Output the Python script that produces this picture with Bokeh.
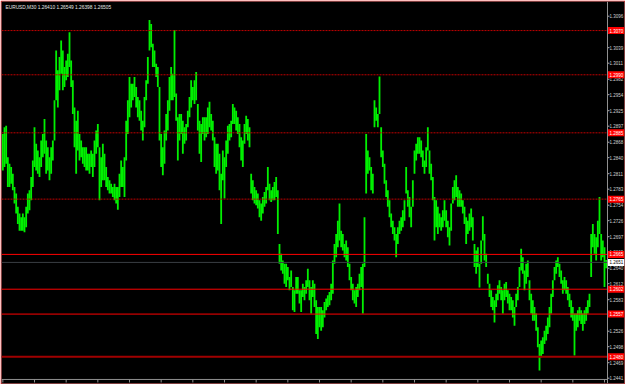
import math
from bokeh.plotting import figure
from bokeh.models import Span, Label, Range1d, ColumnDataSource
from bokeh.core.properties import value
from bokeh.embed import file_html
from bokeh.resources import INLINE

symbol = "EURUSD,M30"
last_ohlc = [1.26410, 1.26549, 1.26398, 1.26505]

high = [
    1.2883, 1.2895, 1.2898, 1.2841, 1.2829, 1.2823, 1.2811, 1.2787, 1.2775, 1.2751,
    1.2739, 1.2732, 1.2739, 1.2732, 1.2751, 1.2775, 1.2781, 1.2805, 1.2835, 1.2895,
    1.2865, 1.2853, 1.2841, 1.2871, 1.2883, 1.2910, 1.2871, 1.2859, 1.2841, 1.2859,
    1.2871, 1.2944, 1.3034, 1.2998, 1.3022, 1.3052, 1.3034, 1.3004, 1.3016, 1.3028,
    1.3067, 1.3016, 1.2980, 1.2931, 1.2907, 1.2925, 1.2883, 1.2871, 1.2859, 1.2859,
    1.2859, 1.2847, 1.2847, 1.2853, 1.2847, 1.2871, 1.2889, 1.2901, 1.2859, 1.2841,
    1.2865, 1.2847, 1.2823, 1.2805, 1.2799, 1.2793, 1.2787, 1.2793, 1.2787, 1.2787,
    1.2811, 1.2835, 1.2823, 1.2841, 1.2907, 1.2944, 1.2986, 1.2974, 1.2974, 1.2986,
    1.2968, 1.2950, 1.2944, 1.2925, 1.2907, 1.2950, 1.2980, 1.3022, 1.3089, 1.3082,
    1.3046, 1.3034, 1.3010, 1.3004, 1.2968, 1.2883, 1.2859, 1.2889, 1.2919, 1.2944,
    1.2986, 1.3004, 1.2992, 1.3071, 1.2956, 1.2913, 1.2919, 1.2919, 1.2907, 1.2895,
    1.2901, 1.2925, 1.2950, 1.2980, 1.2968, 1.2980, 1.2995, 1.2937, 1.2907, 1.2901,
    1.2913, 1.2913, 1.2913, 1.2931, 1.2941, 1.2919, 1.2907, 1.2877, 1.2865, 1.2865,
    1.2847, 1.2811, 1.2853, 1.2841, 1.2871, 1.2898, 1.2901, 1.2907, 1.2937, 1.2931,
    1.2925, 1.2913, 1.2901, 1.2877, 1.2871, 1.2901, 1.2916, 1.2910, 1.2895, 1.2811,
    1.2799, 1.2787, 1.2781, 1.2775, 1.2763, 1.2757, 1.2769, 1.2778, 1.2787, 1.2823,
    1.2793, 1.2781, 1.2787, 1.2796, 1.2805, 1.2781, 1.2684, 1.2666, 1.2654, 1.2648,
    1.2648, 1.2642, 1.2624, 1.2636, 1.2606, 1.2600, 1.2624, 1.2624, 1.2600, 1.2600,
    1.2612, 1.2606, 1.2618, 1.2639, 1.2618, 1.2606, 1.2618, 1.2612, 1.2582, 1.2570,
    1.2570, 1.2570, 1.2564, 1.2579, 1.2585, 1.2591, 1.2597, 1.2612, 1.2654, 1.2684,
    1.2702, 1.2726, 1.2757, 1.2708, 1.2702, 1.2684, 1.2690, 1.2678, 1.2648, 1.2624,
    1.2612, 1.2600, 1.2606, 1.2612, 1.2630, 1.2642, 1.2648, 1.2732, 1.2883, 1.2853,
    1.2841, 1.2823, 1.2811, 1.2944, 1.2931, 1.2919, 1.2987, 1.2895, 1.2853, 1.2829,
    1.2799, 1.2781, 1.2763, 1.2739, 1.2726, 1.2714, 1.2702, 1.2714, 1.2726, 1.2732,
    1.2745, 1.2763, 1.2823, 1.2781, 1.2769, 1.2751, 1.2799, 1.2853, 1.2865, 1.2877,
    1.2877, 1.2871, 1.2853, 1.2835, 1.2859, 1.2895, 1.2853, 1.2829, 1.2805, 1.2769,
    1.2763, 1.2751, 1.2739, 1.2732, 1.2745, 1.2763, 1.2745, 1.2726, 1.2714, 1.2757,
    1.2787, 1.2799, 1.2808, 1.2787, 1.2781, 1.2775, 1.2763, 1.2751, 1.2732, 1.2726,
    1.2739, 1.2748, 1.2732, 1.2684, 1.2672, 1.2678, 1.2648, 1.2690, 1.2734, 1.2702,
    1.2666, 1.2630, 1.2612, 1.2600, 1.2588, 1.2582, 1.2594, 1.2609, 1.2618, 1.2606,
    1.2600, 1.2612, 1.2615, 1.2600, 1.2594, 1.2588, 1.2582, 1.2570, 1.2594, 1.2606,
    1.2642, 1.2675, 1.2660, 1.2636, 1.2648, 1.2654, 1.2618, 1.2594, 1.2582, 1.2570,
    1.2558, 1.2533, 1.2503, 1.2509, 1.2515, 1.2527, 1.2536, 1.2551, 1.2570, 1.2594,
    1.2618, 1.2642, 1.2654, 1.2660, 1.2648, 1.2636, 1.2618, 1.2624, 1.2618, 1.2606,
    1.2594, 1.2582, 1.2570, 1.2558, 1.2558, 1.2564, 1.2570, 1.2564, 1.2558, 1.2564,
    1.2570, 1.2582, 1.2594, 1.2702, 1.2720, 1.2702, 1.2696, 1.2726, 1.2769, 1.2702,
    1.2690, 1.2678, 1.26549,
]

low = [
    1.2817, 1.2823, 1.2829, 1.2787, 1.2787, 1.2793, 1.2781, 1.2757, 1.2739, 1.2720,
    1.2708, 1.2708, 1.2708, 1.2705, 1.2714, 1.2739, 1.2745, 1.2763, 1.2787, 1.2823,
    1.2817, 1.2811, 1.2805, 1.2823, 1.2841, 1.2847, 1.2811, 1.2817, 1.2799, 1.2811,
    1.2835, 1.2871, 1.2944, 1.2931, 1.2962, 1.2992, 1.2962, 1.2968, 1.2980, 1.2986,
    1.3004, 1.2968, 1.2919, 1.2859, 1.2811, 1.2853, 1.2835, 1.2841, 1.2829, 1.2823,
    1.2817, 1.2817, 1.2811, 1.2823, 1.2805, 1.2823, 1.2847, 1.2859, 1.2763, 1.2787,
    1.2799, 1.2799, 1.2787, 1.2781, 1.2775, 1.2775, 1.2769, 1.2763, 1.2757, 1.2746,
    1.2769, 1.2787, 1.2787, 1.2769, 1.2835, 1.2883, 1.2913, 1.2931, 1.2944, 1.2950,
    1.2931, 1.2913, 1.2907, 1.2889, 1.2871, 1.2895, 1.2944, 1.2974, 1.3034, 1.3040,
    1.3004, 1.3004, 1.2986, 1.2968, 1.2871, 1.2823, 1.2808, 1.2829, 1.2871, 1.2889,
    1.2925, 1.2944, 1.2944, 1.2950, 1.2907, 1.2835, 1.2871, 1.2883, 1.2847, 1.2865,
    1.2871, 1.2895, 1.2913, 1.2931, 1.2944, 1.2937, 1.2944, 1.2889, 1.2847, 1.2832,
    1.2883, 1.2871, 1.2877, 1.2883, 1.2895, 1.2889, 1.2871, 1.2823, 1.2811, 1.2817,
    1.2781, 1.2720, 1.2799, 1.2766, 1.2823, 1.2847, 1.2871, 1.2877, 1.2901, 1.2901,
    1.2889, 1.2883, 1.2859, 1.2835, 1.2823, 1.2865, 1.2883, 1.2871, 1.2859, 1.2775,
    1.2763, 1.2757, 1.2754, 1.2748, 1.2732, 1.2726, 1.2739, 1.2751, 1.2757, 1.2781,
    1.2763, 1.2760, 1.2763, 1.2763, 1.2769, 1.2702, 1.2648, 1.2636, 1.2630, 1.2612,
    1.2606, 1.2618, 1.2600, 1.2606, 1.2564, 1.2561, 1.2594, 1.2594, 1.2576, 1.2561,
    1.2588, 1.2582, 1.2594, 1.2606, 1.2582, 1.2558, 1.2588, 1.2570, 1.2521, 1.2512,
    1.2533, 1.2527, 1.2533, 1.2551, 1.2564, 1.2570, 1.2573, 1.2582, 1.2594, 1.2648,
    1.2660, 1.2678, 1.2690, 1.2678, 1.2672, 1.2660, 1.2654, 1.2642, 1.2618, 1.2600,
    1.2582, 1.2576, 1.2570, 1.2588, 1.2600, 1.2606, 1.2558, 1.2642, 1.2775, 1.2811,
    1.2817, 1.2781, 1.2775, 1.2895, 1.2907, 1.2895, 1.2919, 1.2841, 1.2823, 1.2793,
    1.2769, 1.2751, 1.2732, 1.2714, 1.2702, 1.2690, 1.2660, 1.2684, 1.2702, 1.2708,
    1.2714, 1.2726, 1.2775, 1.2751, 1.2732, 1.2714, 1.2751, 1.2811, 1.2835, 1.2847,
    1.2847, 1.2841, 1.2823, 1.2811, 1.2823, 1.2853, 1.2811, 1.2799, 1.2763, 1.2690,
    1.2714, 1.2702, 1.2714, 1.2708, 1.2714, 1.2726, 1.2714, 1.2696, 1.2681, 1.2708,
    1.2757, 1.2763, 1.2769, 1.2751, 1.2751, 1.2751, 1.2739, 1.2720, 1.2684, 1.2702,
    1.2708, 1.2714, 1.2690, 1.2642, 1.2630, 1.2642, 1.2605, 1.2648, 1.2690, 1.2654,
    1.2642, 1.2612, 1.2588, 1.2570, 1.2564, 1.2542, 1.2570, 1.2582, 1.2594, 1.2582,
    1.2558, 1.2582, 1.2588, 1.2576, 1.2564, 1.2564, 1.2551, 1.2536, 1.2570, 1.2582,
    1.2606, 1.2636, 1.2630, 1.2600, 1.2612, 1.2624, 1.2582, 1.2558, 1.2545, 1.2545,
    1.2527, 1.2497, 1.2455, 1.2479, 1.2485, 1.2503, 1.2509, 1.2521, 1.2533, 1.2558,
    1.2588, 1.2618, 1.2630, 1.2642, 1.2624, 1.2612, 1.2594, 1.2600, 1.2594, 1.2582,
    1.2570, 1.2551, 1.2545, 1.2482, 1.2527, 1.2533, 1.2545, 1.2539, 1.2527, 1.2539,
    1.2545, 1.2558, 1.2570, 1.2624, 1.2678, 1.2666, 1.2654, 1.2678, 1.2702, 1.2654,
    1.2660, 1.2606, 1.26398,
]

price_ticks = [1.3096, 1.3068, 1.3039, 1.3011, 1.2982, 1.2954, 1.2925, 1.2897,
               1.2868, 1.2840, 1.2811, 1.2783, 1.2754, 1.2726, 1.2697, 1.2669,
               1.2640, 1.2612, 1.2583, 1.2555, 1.2526, 1.2498, 1.2469, 1.2441]
levels_dotted = [1.3070, 1.2990, 1.2885, 1.2765]
levels_solid = [1.2665, 1.2602, 1.2557]
levels_heavy = [1.2480]
bars_per_time_label = 19

n = len(high)
bars = list(range(n))
x_lo = -0.8                 # left edge of the window, in bars
x_axis = n - 0.2            # price scale sits just right of the last bar
x_hi = x_axis + 10.2        # width of the price-scale column, in bars
scale_top, scale_bottom = 1.31226, 1.24387   # price window of the chart
y_lo = scale_bottom - 0.00073                # room for the time scale

FONT = "Liberation Sans"
SCALE_FS = "4.5px"

p = figure(width=625, height=384, output_backend="svg", toolbar_location=None,
           x_range=Range1d(x_lo, x_hi), y_range=Range1d(y_lo, scale_top),
           x_axis_location=None, y_axis_location=None,
           min_border_left=1, min_border_top=1, min_border_right=1,
           min_border_bottom=1,
           background_fill_color="black", border_fill_color="#ff0000")
p.outline_line_color = None
p.grid.visible = False

# price bars
src = ColumnDataSource(dict(x=bars, high=high, low=low))
p.segment(x0="x", y0="high", x1="x", y1="low", source=src,
          line_color="#00f000", line_width=1.8)

# horizontal levels (stop at the price scale)
def hlines(levels, color, width, dash="solid"):
    p.segment(x0=[x_lo] * len(levels), x1=[x_axis] * len(levels),
              y0=levels, y1=levels, line_color=color, line_width=width,
              line_dash=dash)

hlines(levels_dotted, "#c00000", 1, "2 1")
hlines(levels_heavy, "#a00000", 2)
hlines(levels_solid, "#ff0000", 1)
hlines([last_ohlc[3]], "#3a3e44", 1)

# time scale
time_ticks = list(range(0, n, bars_per_time_label))
hlines([scale_bottom], "#909090", 1)
p.ray(x=time_ticks, y=[scale_bottom] * len(time_ticks), length=3,
      length_units="screen", angle=-math.pi / 2, line_color="#909090",
      line_width=1)

# price scale
p.add_layout(Span(location=x_axis, dimension="height", line_color="#909090",
                  line_width=1))
p.ray(x=[x_axis] * len(price_ticks), y=price_ticks, length=2,
      length_units="screen", angle=0, line_color="#b0b0b0", line_width=1)
p.text(x=[x_axis] * len(price_ticks), y=price_ticks,
       text=[f"{t:.4f}" for t in price_ticks], x_offset=2,
       text_baseline="middle", text_align="left", text_font=value(FONT),
       text_font_size=SCALE_FS, text_color="#d0d0d0")

red_levels = levels_dotted + levels_solid + levels_heavy
box_x = (x_axis + x_hi) / 2
box_w = x_hi - x_axis
p.rect(x=[box_x] * len(red_levels), y=red_levels, width=box_w, height=7,
       height_units="screen", fill_color="#ff0000", line_color=None)
p.text(x=[x_axis] * len(red_levels), y=red_levels,
       text=[f"{v:.4f}" for v in red_levels], x_offset=2,
       text_baseline="middle", text_align="left", text_font=value(FONT),
       text_font_size=SCALE_FS, text_color="#ffffff")
p.rect(x=[box_x], y=[last_ohlc[3]], width=box_w, height=7,
       height_units="screen", fill_color="#ffffff", line_color=None)
p.text(x=[x_axis], y=[last_ohlc[3]], text=[f"{last_ohlc[3]:.4f}"], x_offset=2,
       text_baseline="middle", text_align="left", text_font=value(FONT),
       text_font_size=SCALE_FS, text_color="#000000")

title_text = symbol + "  " + " ".join(f"{v:.5f}" for v in last_ohlc)
p.add_layout(Label(x=x_lo, y=scale_top, text=title_text, x_offset=4, y_offset=-3,
                   text_baseline="top", text_align="left",
                   text_font=FONT, text_font_size="4.8px",
                   text_color="#e8e8e8"))

open("out.html", "w").write(file_html(p, INLINE))
